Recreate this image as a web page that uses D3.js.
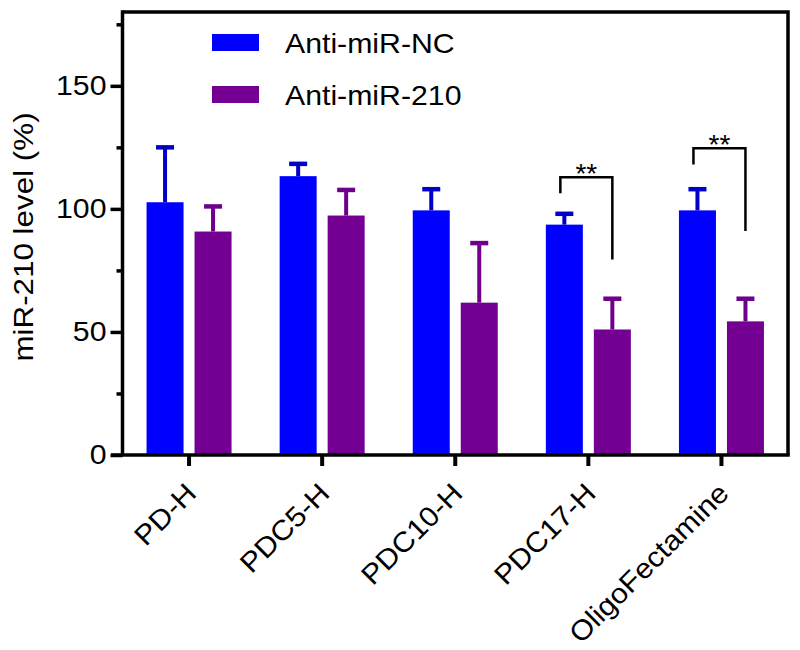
<!DOCTYPE html>
<html>
<head>
<meta charset="utf-8">
<script src="https://cdn.jsdelivr.net/npm/d3@7/dist/d3.min.js"></script>
<style>
  html, body { margin: 0; padding: 0; background: #fff; }
  text { font-family: "Liberation Sans", Arial, Helvetica, sans-serif; fill: #000; }
</style>
</head>
<body>
<svg id="chart" width="800" height="650"></svg>
<script>
// ---------- data ----------
const categories = ["PD-H", "PDC5-H", "PDC10-H", "PDC17-H", "OligoFectamine"];
const seriesNames = ["Anti-miR-NC", "Anti-miR-210"];
const ncValues = [102.7, 113.3, 99.4, 93.6, 99.4];
const ncErrors = [22.3, 5.0, 8.6, 4.4, 8.6];
const m210Values = [90.8, 97.3, 61.9, 51.0, 54.3];
const m210Errors = [10.2, 10.4, 24.2, 12.5, 9.2];
const yMajorTicks = [0, 50, 100, 150];
const yMinorTicks = [25, 75, 125, 175];
const yMax = 180;
// significance brackets: category, bracket top, left leg bottom, right leg bottom, label
const sigCategories = ["PDC17-H", "OligoFectamine"];
const sigTop = [112.9, 124.6];
const sigLeftBottom = [106.4, 118.0];
const sigRightBottom = [79.4, 91.0];
const sigLabels = ["**", "**"];

const colors = { "Anti-miR-NC": "#0000FF", "Anti-miR-210": "#730092" };
const errColors = { "Anti-miR-NC": "#0000C8", "Anti-miR-210": "#6E008C" };

// ---------- layout ----------
const svg = d3.select("#chart");
const pL = 122.5, pR = 788, pT = 12, pB = 455;
const FS = 28, STRETCH = 1.08;

const x = d3.scaleBand().domain(categories).range([pL, pR]).padding(0);
const xs = d3.scaleBand().domain(seriesNames).range([-42.5, 42.5]).paddingInner(0.229).paddingOuter(0);
const y = d3.scaleLinear().domain([0, yMax]).range([pB, pT]);

function stretch(sel, k) {
  sel.each(function () {
    const L = this.getComputedTextLength();
    d3.select(this).attr("textLength", L * k).attr("lengthAdjust", "spacingAndGlyphs");
  });
}

const rows = categories.map((c, i) => ({
  cat: c,
  vals: [
    { s: seriesNames[0], v: ncValues[i], e: ncErrors[i] },
    { s: seriesNames[1], v: m210Values[i], e: m210Errors[i] }
  ]
}));

// bars
const g = svg.append("g");
const groups = g.selectAll("g.grp").data(rows).join("g")
  .attr("class", "grp")
  .attr("transform", d => `translate(${x(d.cat) + x.bandwidth() / 2},0)`);

groups.selectAll("rect").data(d => d.vals).join("rect")
  .attr("x", d => xs(d.s))
  .attr("width", xs.bandwidth())
  .attr("y", d => y(d.v))
  .attr("height", d => y(0) - y(d.v))
  .attr("fill", d => colors[d.s]);

// error bars (upper only)
groups.selectAll("line.stem").data(d => d.vals).join("line")
  .attr("class", "stem")
  .attr("x1", d => xs(d.s) + xs.bandwidth() / 2)
  .attr("x2", d => xs(d.s) + xs.bandwidth() / 2)
  .attr("y1", d => y(d.v))
  .attr("y2", d => y(d.v + d.e))
  .attr("stroke", d => errColors[d.s])
  .attr("stroke-width", 4);
groups.selectAll("line.cap").data(d => d.vals).join("line")
  .attr("class", "cap")
  .attr("x1", d => xs(d.s) + xs.bandwidth() / 2 - 9)
  .attr("x2", d => xs(d.s) + xs.bandwidth() / 2 + 9)
  .attr("y1", d => y(d.v + d.e))
  .attr("y2", d => y(d.v + d.e))
  .attr("stroke", d => errColors[d.s])
  .attr("stroke-width", 4.5);

// frame (top and right)
svg.append("path")
  .attr("d", `M${pL},${pT}H${pR}V${pB}`)
  .attr("fill", "none").attr("stroke", "#000").attr("stroke-width", 3.5);

// y axis
const yAxis = svg.append("g").attr("transform", `translate(${pL},0)`)
  .call(d3.axisLeft(y).tickValues(yMajorTicks).tickSize(12).tickPadding(4).tickFormat(d3.format("d")));
yAxis.select(".domain").remove();
yAxis.selectAll(".tick line").attr("stroke", "#000").attr("stroke-width", 3.5);
yAxis.selectAll(".tick text").attr("font-size", FS).attr("font-family", "Liberation Sans, Arial, sans-serif").call(stretch, STRETCH);
const yMinor = svg.append("g").attr("transform", `translate(${pL},0)`)
  .call(d3.axisLeft(y).tickValues(yMinorTicks).tickSize(6).tickFormat(""));
yMinor.select(".domain").remove();
yMinor.selectAll(".tick line").attr("stroke", "#000").attr("stroke-width", 3.5);
svg.append("line").attr("x1", pL).attr("x2", pL).attr("y1", pT - 1.75).attr("y2", pB)
  .attr("stroke", "#000").attr("stroke-width", 3.5);

// x axis
const xAxis = svg.append("g").attr("transform", `translate(0,${pB})`)
  .call(d3.axisBottom(x).tickSize(11).tickPadding(0));
xAxis.select(".domain").remove();
xAxis.selectAll(".tick line").attr("stroke", "#000").attr("stroke-width", 4);
xAxis.selectAll(".tick text")
  .attr("font-size", FS).attr("font-family", "Liberation Sans, Arial, sans-serif")
  .attr("y", 0).attr("dy", 0)
  .attr("text-anchor", "end")
  .attr("transform", "translate(9,40) rotate(-45)")
  .call(stretch, STRETCH);
svg.append("line").attr("x1", 111).attr("x2", pR + 1.75).attr("y1", pB).attr("y2", pB)
  .attr("stroke", "#000").attr("stroke-width", 3.5);

// y label
svg.append("text")
  .attr("transform", `translate(33,${237}) rotate(-90)`)
  .attr("text-anchor", "middle")
  .attr("font-size", FS)
  .text("miR-210 level (%)")
  .call(stretch, 1.12);

// legend
const legY = [34, 86];
seriesNames.forEach((s, i) => {
  svg.append("rect").attr("x", 212).attr("y", legY[i]).attr("width", 47).attr("height", 17)
    .attr("fill", colors[s]);
  svg.append("text").attr("x", 285).attr("y", legY[i] + 19)
    .attr("font-size", FS).text(s).call(stretch, STRETCH);
});

// significance brackets
sigCategories.forEach((c, i) => {
  const cx = x(c) + x.bandwidth() / 2;
  const xl = cx + xs(seriesNames[0]) + xs.bandwidth() / 2 - 4;
  const xr = cx + xs(seriesNames[1]) + xs.bandwidth() / 2;
  svg.append("path")
    .attr("d", `M${xl},${y(sigLeftBottom[i])}V${y(sigTop[i])}H${xr}V${y(sigRightBottom[i])}`)
    .attr("fill", "none").attr("stroke", "#000").attr("stroke-width", 2.5);
  svg.append("text").attr("x", (xl + xr) / 2).attr("y", y(sigTop[i]) + 6)
    .attr("text-anchor", "middle").attr("font-size", FS).text(sigLabels[i]);
});
</script>
</body>
</html>
